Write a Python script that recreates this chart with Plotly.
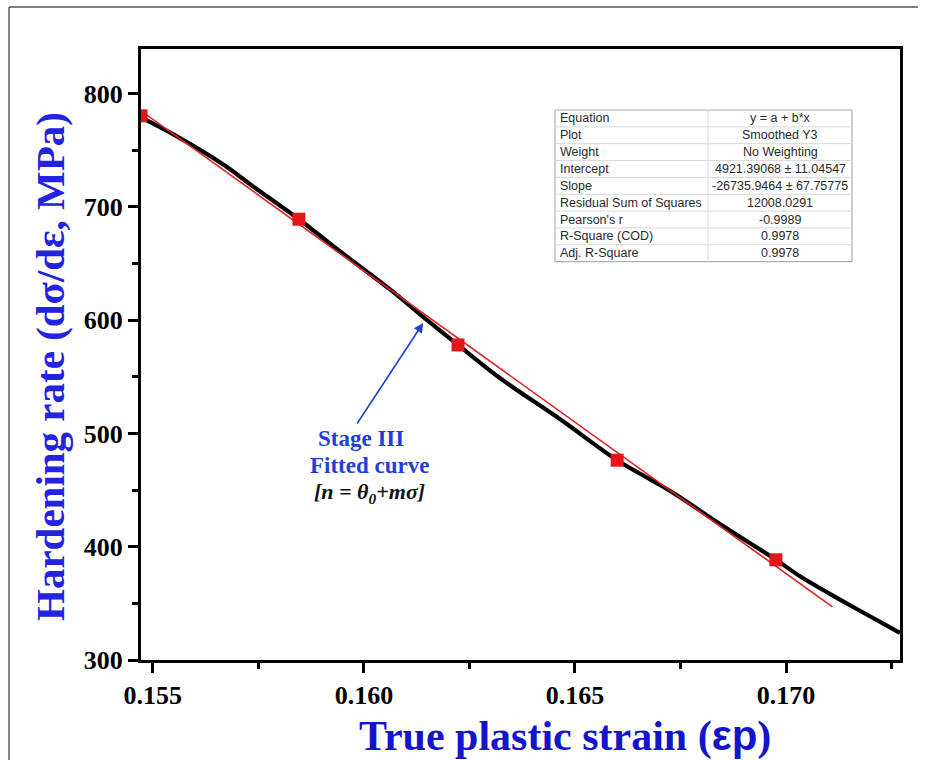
import plotly.graph_objects as go

# ---------------- data ----------------
strain = [0.15472, 0.15552, 0.15673, 0.15730, 0.15846, 0.15943, 0.16062, 0.16133,
          0.16223, 0.16322, 0.16465, 0.16600, 0.16678, 0.16737, 0.16851, 0.16976,
          0.17033, 0.17104, 0.17159, 0.17270]
rate = [779.1, 763.4, 736.0, 720.2, 689.2, 660.9, 627.2, 605.2,
        578.2, 549.0, 512.5, 476.4, 459.5, 446.6, 418.2, 388.5,
        374.0, 358.4, 346.8, 324.0]

marker_strain = [0.15472, 0.15846, 0.16223, 0.16600, 0.16976]
marker_rate = [780.5, 689.2, 578.2, 476.4, 388.5]

fit_strain = [0.15472, 0.17110]
fit_rate = [784.9, 346.9]

x_ticks = [0.155, 0.160, 0.165, 0.170]
x_tick_labels = ["0.155", "0.160", "0.165", "0.170"]
y_ticks = [300, 400, 500, 600, 700, 800]

table_labels = ["Equation", "Plot", "Weight", "Intercept", "Slope",
                "Residual Sum of Squares", "Pearson's r", "R-Square (COD)", "Adj. R-Square"]
table_values = ["y = a + b*x", "Smoothed Y3", "No Weighting", "4921.39068 ± 11.04547",
                "-26735.9464 ± 67.75775", "12008.0291", "-0.9989", "0.9978", "0.9978"]

# ---------------- layout helpers ----------------
W, H = 928, 760
L, R, T, B = 141, 900, 49, 660


def px(x):
    return (x - L) / (R - L)


def py(y):
    return (B - y) / (B - T)


fig = go.Figure()

fig.add_trace(go.Scatter(x=strain, y=rate, mode="lines",
                         line=dict(color="black", width=4.2, shape="spline", smoothing=1.0),
                         showlegend=False, hoverinfo="skip"))
fig.add_trace(go.Scatter(x=fit_strain, y=fit_rate, mode="lines",
                         line=dict(color="#e02222", width=1.6),
                         showlegend=False, hoverinfo="skip"))
fig.add_trace(go.Scatter(x=marker_strain, y=marker_rate, mode="markers",
                         marker=dict(symbol="square", size=13, color="#e3161b"),
                         showlegend=False, hoverinfo="skip"))

serif = "Liberation Serif"
sans = "Liberation Sans"

annotations = []
shapes = []

# axis titles
annotations.append(dict(xref="paper", yref="paper", x=px(50), y=py(367),
                        text="<b>Hardening rate (dσ/dε, MPa)</b>", textangle=-90,
                        showarrow=False, xanchor="center", yanchor="middle",
                        font=dict(family=serif, size=41, color="#2323e0")))
annotations.append(dict(xref="paper", yref="paper", x=px(565), y=py(736),
                        text="<b>True plastic strain (<span style=\"font-family:'Liberation Sans'\">εp</span>)</b>",
                        showarrow=False, xanchor="center", yanchor="middle",
                        font=dict(family=serif, size=42, color="#1414cc")))

# stage annotation
annotations.append(dict(xref="paper", yref="paper", x=px(361), y=py(438),
                        text="<b>Stage III</b>", showarrow=False,
                        xanchor="center", yanchor="middle",
                        font=dict(family=serif, size=23, color="#1f3fd6")))
annotations.append(dict(xref="paper", yref="paper", x=px(369), y=py(466),
                        text="<b>Fitted curve</b>", showarrow=False,
                        xanchor="center", yanchor="middle",
                        font=dict(family=serif, size=23, color="#1f3fd6")))
annotations.append(dict(xref="paper", yref="paper", x=px(369), y=py(493),
                        text="<b><i>[n = θ<sub>0</sub>+mσ]</i></b>", showarrow=False,
                        xanchor="center", yanchor="middle",
                        font=dict(family=serif, size=22, color="#111111")))
annotations.append(dict(xref="x", yref="y", x=0.161405, y=597.6, text="",
                        showarrow=True, ax=-67, ay=102, axref="pixel", ayref="pixel",
                        arrowhead=2, arrowsize=1.2, arrowwidth=1.6, arrowcolor="#1f3fd6",
                        standoff=0, startstandoff=0))

# fit table
tx0, tx1, tmid = 555, 852, 708
ty0 = 110
rh = 16.85
for i, (lab, val) in enumerate(zip(table_labels, table_values)):
    yc = ty0 + rh * (i + 0.5)
    annotations.append(dict(xref="paper", yref="paper", x=px(tx0 + 3), y=py(yc),
                            text=lab, showarrow=False, xanchor="left", yanchor="middle",
                            font=dict(family=sans, size=12.5, color="#2a2a2a")))
    annotations.append(dict(xref="paper", yref="paper", x=px((tmid + tx1) / 2), y=py(yc),
                            text=val, showarrow=False, xanchor="center", yanchor="middle",
                            font=dict(family=sans, size=12.5, color="#2a2a2a")))
ty1 = ty0 + rh * len(table_labels)
shapes.append(dict(type="rect", xref="paper", yref="paper", x0=px(tx0), x1=px(tx1),
                   y0=py(ty0), y1=py(ty1), line=dict(color="#b0b0b0", width=1.2),
                   fillcolor="white", layer="above"))
for k in range(1, len(table_labels)):
    yk = ty0 + rh * k
    shapes.append(dict(type="line", xref="paper", yref="paper", x0=px(tx0), x1=px(tx1),
                       y0=py(yk), y1=py(yk), line=dict(color="#d8d8d8", width=1)))
shapes.append(dict(type="line", xref="paper", yref="paper", x0=px(tmid), x1=px(tmid),
                   y0=py(ty0), y1=py(ty1), line=dict(color="#d8d8d8", width=1)))

# outer picture frame
shapes.append(dict(type="line", xref="paper", yref="paper", x0=px(9), x1=px(9),
                   y0=py(7), y1=py(775), line=dict(color="#555555", width=1.4)))
shapes.append(dict(type="line", xref="paper", yref="paper", x0=px(9), x1=px(918),
                   y0=py(7), y1=py(7), line=dict(color="#555555", width=1.4)))

fig.update_layout(
    width=W, height=H,
    margin=dict(l=L, r=W - R, t=T, b=H - B, autoexpand=False),
    paper_bgcolor="white", plot_bgcolor="white",
    annotations=annotations, shapes=shapes,
    xaxis=dict(range=[0.15472, 0.1727], tickvals=x_ticks, ticktext=x_tick_labels,
               showgrid=False, zeroline=False, showline=True, linecolor="black",
               linewidth=3, mirror=True, ticks="outside", ticklen=10, tickwidth=2.5,
               tickcolor="black",
               tickfont=dict(family=serif, size=26, color="black", weight="bold"),
               minor=dict(dtick=0.0025, tick0=0.155, ticks="outside", ticklen=6,
                          tickwidth=2.5, tickcolor="black", showgrid=False)),
    yaxis=dict(range=[300, 839.5], tickvals=y_ticks,
               showgrid=False, zeroline=False, showline=True, linecolor="black",
               linewidth=3, mirror=True, ticks="outside", ticklen=10, tickwidth=2.5,
               tickcolor="black",
               tickfont=dict(family=serif, size=26, color="black", weight="bold"),
               minor=dict(dtick=50, tick0=300, ticks="outside", ticklen=6,
                          tickwidth=2.5, tickcolor="black", showgrid=False)),
)

fig.write_html("out.html")
